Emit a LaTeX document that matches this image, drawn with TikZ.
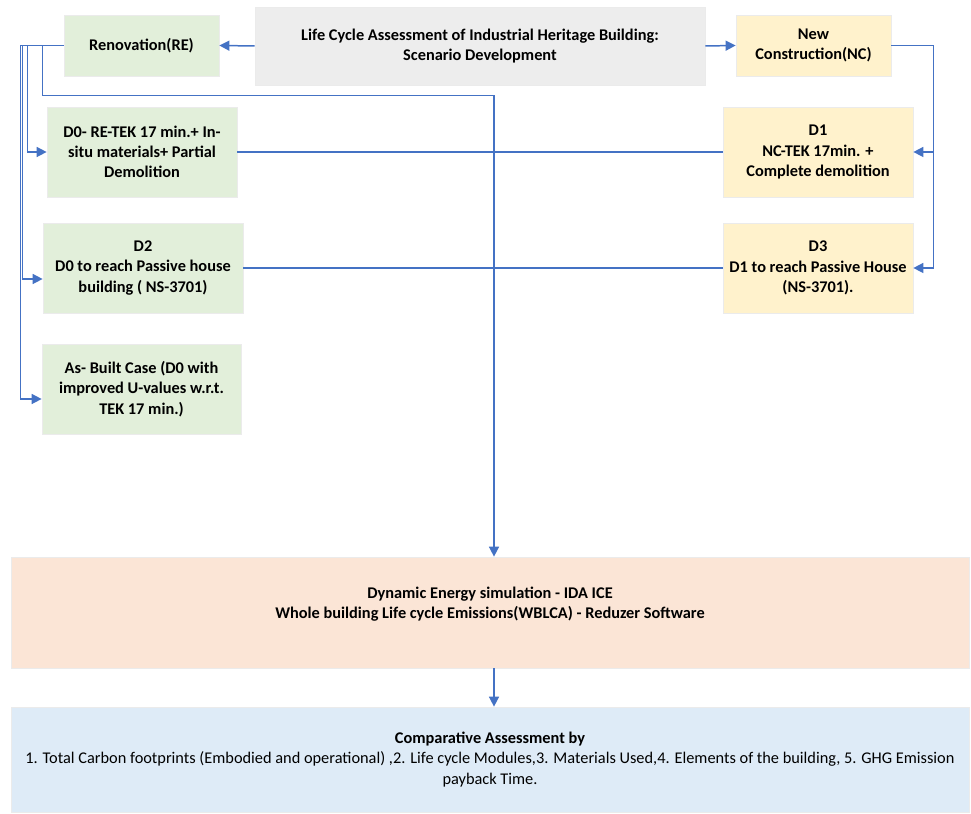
\documentclass[tikz,border=0pt]{standalone}
\usepackage{fontspec}
\setsansfont{Carlito}
\usetikzlibrary{arrows.meta}
\definecolor{hdrgray}{HTML}{EDEDED}
\definecolor{renogreen}{HTML}{E2EFDA}
\definecolor{newyellow}{HTML}{FFF2CC}
\definecolor{simpeach}{HTML}{FBE5D6}
\definecolor{cmpblue}{HTML}{DEEBF7}
\definecolor{linkblue}{HTML}{4472C4}
\tikzset{every node/.style={font=\sffamily\bfseries\fontsize{9.3}{11.5}\selectfont},
 block/.style={draw=black!8,line width=.4pt,inner sep=3pt,align=center},
 reno/.style={block,fill=renogreen},
 newc/.style={block,fill=newyellow},
 link/.style={-{Triangle[length=2mm,width=2mm]},draw=linkblue,line width=.85pt},
 wire/.style={draw=linkblue,line width=.85pt}}
\begin{document}
\begin{tikzpicture}

\path[use as bounding box] (0,0) rectangle (19.42,16.28);
\node[block,fill=hdrgray,minimum width=9cm,minimum height=1.56cm] (title) at (9.6,15.36)
 {Life Cycle Assessment of Industrial Heritage Building:\\Scenario Development};
\node[reno,minimum width=3.1cm,minimum height=1.22cm] (re) at (2.83,15.37) {Renovation(RE)};
\node[newc,minimum width=3.1cm,minimum height=1.22cm] (nc) at (16.27,15.37) {New\\Construction(NC)};
\node[reno,minimum width=3.8cm,minimum height=1.8cm] (d0) at (2.84,13.24)
 {D0- RE-TEK 17 min.+ In-\\situ materials+ Partial\\Demolition};
\node[newc,minimum width=3.8cm,minimum height=1.8cm] (d1) at (16.36,13.24)
 {D1\\NC-TEK 17min. +\\Complete demolition};
\node[reno,minimum width=4cm,minimum height=1.8cm] (d2) at (2.86,10.92)
 {D2\\D0 to reach Passive house\\building ( NS-3701)};
\node[newc,minimum width=3.8cm,minimum height=1.8cm] (d3) at (16.36,10.92)
 {D3\\D1 to reach Passive House\\(NS-3701).};
\node[reno,minimum width=3.98cm,minimum height=1.8cm] (asb) at (2.83,8.5)
 {As- Built Case (D0 with\\improved U-values w.r.t.\\TEK 17 min.)};
\node[block,fill=simpeach,minimum width=19.16cm,minimum height=2.22cm,text height=13pt,text depth=6pt] (sim) at (9.8,4.03)
 {Dynamic Energy simulation - IDA ICE\\Whole building Life cycle Emissions(WBLCA) - Reduzer Software};
\node[block,fill=cmpblue,minimum width=19.16cm,minimum height=2.1cm] (cmp) at (9.8,1.09)
 {Comparative Assessment by\\\mdseries 1. Total Carbon footprints (Embodied and operational) ,2. Life cycle Modules,3. Materials Used,4. Elements of the building, 5. GHG Emission\\\mdseries payback Time.};

\draw[link] (title.west)--(re.east);
\draw[link] (title.east)--(nc.west);
\draw[link] (nc.east)--++(.84,0)|-(d1.east);
\draw[link] (nc.east)--++(.84,0)|-(d3.east);
\draw[link] (re.west)--++(-.86,0)|-([yshift=-2mm]asb.west);
\draw[link] (re.west)--++(-.82,0)|-([yshift=-2.2mm]d2.west);
\draw[link] (re.west)--++(-.72,0)|-(d0.west);
\draw[link] (re.west)--++(-.42,0)--++(0,-1)-|([xshift=.8mm]sim.north);
\draw[wire] (d0.east)--(d1.west);
\draw[wire] (d2.east)--(d3.west);
\draw[link] ([xshift=.8mm]sim.south)--([xshift=.8mm]cmp.north);

\end{tikzpicture}
\end{document}
